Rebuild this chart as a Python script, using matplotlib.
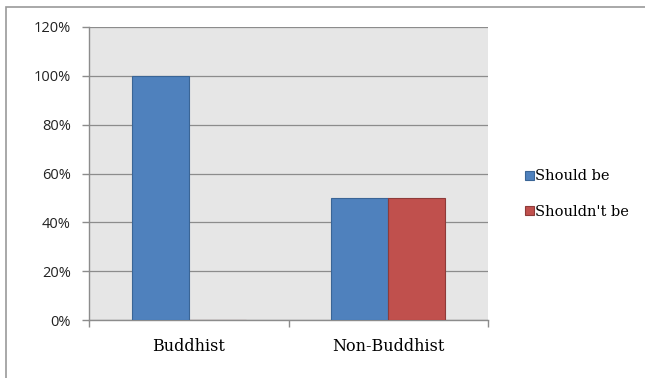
import matplotlib.pyplot as plt
import numpy as np
from matplotlib.patches import Rectangle

categories = ['Buddhist', 'Non-Buddhist']
series = ['Should be', "Shouldn't be"]
should_be = [1.00, 0.50]
shouldnt_be = [0.00, 0.50]
y_ticks = [0, 0.2, 0.4, 0.6, 0.8, 1.0, 1.2]

fills = ['#4F81BD', '#C0504D']
edges = ['#3A6596', '#8E3B39']

fig = plt.figure(figsize=(6.45, 3.78), dpi=100)
ax = fig.add_axes([89 / 645, 1 - 320 / 378, 399 / 645, 293 / 378])

# outer chart frame
fig.patches.append(Rectangle((6 / 645, -0.1), 2, 1.1 - 6.5 / 378,
                             transform=fig.transFigure, fill=False,
                             edgecolor='#999999', linewidth=1.2))

x = np.arange(len(categories))
w = 1 / 3.5
ax.bar(x - w / 2, should_be, w, color=fills[0], edgecolor=edges[0],
       linewidth=0.8, label=series[0], zorder=3)
ax.bar(x + w / 2, shouldnt_be, w, color=fills[1], edgecolor=edges[1],
       linewidth=0.8, label=series[1], zorder=3)

ax.set_facecolor('#E6E6E6')
ax.set_xlim(-0.5, 1.5)
ax.set_ylim(0, 1.2)
ax.set_yticks(y_ticks)
ax.set_yticklabels([f'{int(round(t * 100))}%' for t in y_ticks],
                   fontsize=10.5, color='#222222', family='Open Sans')
ax.yaxis.grid(True, color='#8C8C8C', linewidth=0.9, zorder=0)
ax.set_axisbelow(True)

ax.set_xticks([-0.5, 0.5, 1.5])
ax.set_xticklabels([])
ax.set_xticks(x, minor=True)
ax.set_xticklabels(categories, minor=True, fontsize=11.5, family='DejaVu Serif')
ax.tick_params(axis='x', which='minor', length=0, pad=13)
ax.tick_params(axis='both', which='major', length=5, color='#8C8C8C', width=1)
ax.tick_params(axis='y', pad=8)

for side in ['top', 'right']:
    ax.spines[side].set_visible(False)
for side in ['left', 'bottom']:
    ax.spines[side].set_color('#8C8C8C')
    ax.spines[side].set_linewidth(1.0)

fig.legend(loc='center left', bbox_to_anchor=(512 / 645, 1 - 194 / 378),
           frameon=False, handlelength=0.6, handleheight=0.6,
           handletextpad=0.1, labelspacing=1.45,
           prop={'family': 'DejaVu Serif', 'size': 10.5})

fig.savefig('out.png', dpi=100)
